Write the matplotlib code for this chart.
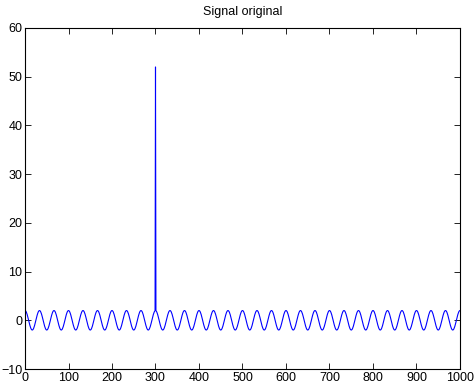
import numpy as np
import matplotlib
matplotlib.use('Agg')
import matplotlib.pyplot as plt

## parameters of the signal

fs        = 1000     # frequence d'echantillonnage
n_samples = 1001     # nombre d'echantillons (0..1000)
amp       = 2        # amplitude de la sinusoide
freq      = 30       # frequence de la sinusoide (Hz)
pic_pos   = 300      # position de l'impulsion
pic_amp   = 50       # hauteur de l'impulsion

xticks = [0, 100, 200, 300, 400, 500, 600, 700, 800, 900, 1000]
yticks = [-10, 0, 10, 20, 30, 40, 50, 60]

## building the signal

n = np.arange(n_samples)
x = amp * np.cos(2 * np.pi * freq * n / fs)
x[pic_pos] += pic_amp

## plotting

plt.rcParams['font.family'] = ['Liberation Sans', 'DejaVu Sans']

fig = plt.figure(figsize=(4.75, 3.86), dpi=100)
ax = fig.add_axes([25 / 475, 17 / 386, 435 / 475, 341 / 386])

ax.plot(n, x, color=(0, 0, 1), linewidth=0.8)
ax.set_xlim(0, 1000)
ax.set_ylim(-10, 60)
ax.set_xticks(xticks)
ax.set_yticks(yticks)
ax.tick_params(direction='in', top=True, right=True, length=4, width=0.6, pad=2, labelsize=9)
for s in ax.spines.values():
    s.set_linewidth(0.8)
ax.set_title('Signal original', fontsize=9, pad=9)

fig.savefig('out.png', dpi=100)
